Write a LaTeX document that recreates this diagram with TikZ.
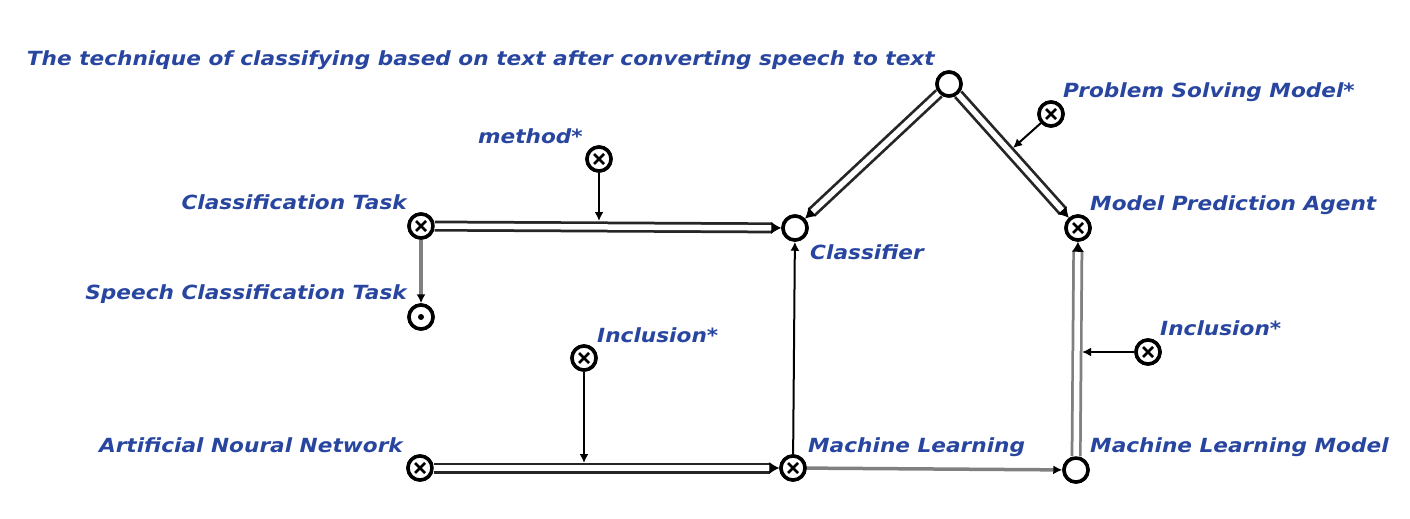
\documentclass[tikz,border=0pt]{standalone}
\usepackage{fontspec}
\setmainfont{DejaVu Sans}
\newfontfamily\labfont{DejaVu Sans}[FakeStretch=1.11]
\usetikzlibrary{arrows.meta,calc}
\definecolor{lbl}{RGB}{40,70,160}
\begin{document}
\begin{tikzpicture}[x=1pt,y=-1pt,
  cnode/.style={circle,draw=black,line width=3.5pt,minimum size=24pt,inner sep=0pt,fill=white},
  onode/.style={cnode},
  xnode/.style={cnode,path picture={
     \draw[black,line width=2.6pt] ($(path picture bounding box.center)+(-5pt,-5pt)$) -- ++(10pt,10pt);
     \draw[black,line width=2.6pt] ($(path picture bounding box.center)+(-5pt,5pt)$) -- ++(10pt,-10pt);}},
  dnode/.style={cnode,path picture={
     \fill[black] (path picture bounding box.center) circle (3pt);}},
  lab/.style={font=\labfont\bfseries\itshape\fontsize{19.5}{22}\selectfont,text=lbl,inner sep=0pt},
  tipa/.style={-{Latex[length=9pt,width=9pt]}},
  outer/.style={line width=11pt,shorten >=9pt},
  inner/.style={white,line width=5.5pt,shorten >=9pt,shorten <=-1pt},
  tiponly/.style={draw=white,line width=1pt,-{Latex[length=10pt,width=12pt,color=black]}},
  sgl/.style={draw=black,line width=2pt,tipa},
  gsgl/.style={draw=black!50,line width=3.5pt,-{Latex[length=9pt,width=9pt,color=black]}}
]
\useasboundingbox (0,0) rectangle (1410,519);
% nodes
\node[onode] (t) at (949,84) {};
\node[xnode] (psm) at (1051,114) {};
\node[xnode] (meth) at (599,159) {};
\node[xnode] (ct) at (421,226) {};
\node[onode] (cls) at (795,228) {};
\node[xnode] (mpa) at (1078,228) {};
\node[dnode] (sct) at (421,317) {};
\node[xnode] (inc1) at (584,358) {};
\node[xnode] (inc2) at (1148,352) {};
\node[xnode] (ann) at (420,468) {};
\node[xnode] (ml) at (793,468) {};
\node[onode] (mlm) at (1076,470) {};
% labels
\node[lab,anchor=east] (lt) at (935,60) {The technique of classifying based on text after converting speech to text};
\node[lab,anchor=west] (lpsm) at (1063,92) {Problem Solving Model*};
\node[lab,anchor=east] (lmeth) at (583,136) {method*};
\node[lab,anchor=east] (lct) at (407,202) {Classification Task};
\node[lab,anchor=west] (lcls) at (810,252) {Classifier};
\node[lab,anchor=west] (lmpa) at (1090,205) {Model Prediction Agent};
\node[lab,anchor=east] (lsct) at (407,294) {Speech Classification Task};
\node[lab,anchor=west] (linc1) at (597,335) {Inclusion*};
\node[lab,anchor=west] (linc2) at (1160,328) {Inclusion*};
\node[lab,anchor=east] (lann) at (403,445) {Artificial Noural Network};
\node[lab,anchor=west] (lml) at (808,447) {Machine Learning};
\node[lab,anchor=west] (lmlm) at (1090,447) {Machine Learning Model};
% double edges
\foreach \a/\b/\c in {ct/cls/black!85, t/cls/black!85, t/mpa/black!85, ann/ml/black!85, mlm/mpa/black!50}{
  \draw[outer,draw=\c] (\a) -- (\b);
  \draw[inner] (\a) -- (\b);
  \draw[tiponly] (\a) -- (\b);
}
% single edges
\draw[sgl] (ml) -- (cls);
\draw[gsgl] (ml) -- (mlm);
\draw[gsgl] (ct) -- (sct);
% attachments
\draw[sgl,shorten >=5pt] (meth) -- (meth |- ct);
\draw[sgl,shorten >=5pt] (inc1) -- (inc1 |- ann);
\draw[sgl,shorten >=6pt] (inc2) -- (inc2 -| mlm);
\draw[sgl,shorten >=5pt] (psm) -- ($(t)!(psm)!(mpa)$);
% redraw nodes on top
\foreach \n in {t,cls,mlm}{\node[onode] at (\n) {};}
\foreach \n in {psm,meth,ct,mpa,inc1,inc2,ann,ml}{\node[xnode] at (\n) {};}
\node[dnode] at (sct) {};
\end{tikzpicture}
\end{document}
